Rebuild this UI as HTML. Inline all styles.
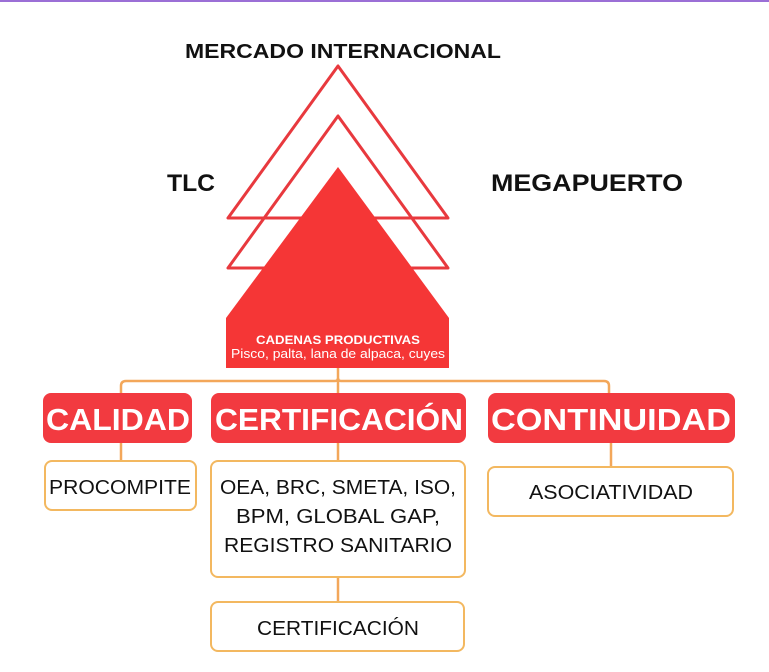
<!DOCTYPE html>
<html><head><meta charset="utf-8"><style>
html,body{margin:0;padding:0;background:#fff;}
svg{display:block;}
text{font-family:"Liberation Sans",sans-serif;}
</style></head><body>
<svg width="769" height="672" viewBox="0 0 769 672" xmlns="http://www.w3.org/2000/svg">
<rect x="0" y="0" width="769" height="2" fill="#9b6fd6"/>
<text x="343" y="58" text-anchor="middle" font-size="20" font-weight="bold" fill="#111" textLength="316" lengthAdjust="spacingAndGlyphs">MERCADO INTERNACIONAL</text>
<text x="191" y="191" text-anchor="middle" font-size="24" font-weight="bold" fill="#111" textLength="48" lengthAdjust="spacingAndGlyphs">TLC</text>
<text x="587" y="191" text-anchor="middle" font-size="24" font-weight="bold" fill="#111" textLength="192" lengthAdjust="spacingAndGlyphs">MEGAPUERTO</text>
<polygon points="338,66 228,218 448,218" fill="none" stroke="#e8393e" stroke-width="3" stroke-linejoin="round"/>
<polygon points="338,116 228,268 448,268" fill="none" stroke="#e8393e" stroke-width="3" stroke-linejoin="round"/>
<polygon points="338,167 226,318 226,368 449,368 449,318" fill="#f53636"/>
<text x="338" y="344" text-anchor="middle" font-size="11.5" font-weight="bold" fill="#fff" textLength="164" lengthAdjust="spacingAndGlyphs">CADENAS PRODUCTIVAS</text>
<text x="338" y="358" text-anchor="middle" font-size="12.5" fill="#fff" textLength="214" lengthAdjust="spacingAndGlyphs">Pisco, palta, lana de alpaca, cuyes</text>
<g fill="none" stroke="#f3a75a" stroke-width="2.5">
<path d="M338 368 V378 Q338 381 335 381 H126 Q121 381 121 386 V393"/>
<path d="M338 378 Q338 381 341 381 H604 Q609 381 609 386 V393"/>
<path d="M338 381 V393"/>
<path d="M121 443 V461"/>
<path d="M338 443 V461"/>
<path d="M338 577 V602"/>
<path d="M611 443 V467"/>
</g>
<rect x="43" y="393" width="149" height="50" rx="8" fill="#f23a40"/>
<rect x="211" y="393" width="255" height="50" rx="8" fill="#f23a40"/>
<rect x="488" y="393" width="247" height="50" rx="8" fill="#f23a40"/>
<text x="118" y="430" text-anchor="middle" font-size="31" font-weight="bold" fill="#fff" textLength="144" lengthAdjust="spacingAndGlyphs">CALIDAD</text>
<text x="339" y="430" text-anchor="middle" font-size="31" font-weight="bold" fill="#fff" textLength="248" lengthAdjust="spacingAndGlyphs">CERTIFICACIÓN</text>
<text x="611" y="430" text-anchor="middle" font-size="31" font-weight="bold" fill="#fff" textLength="240" lengthAdjust="spacingAndGlyphs">CONTINUIDAD</text>
<g fill="#fff" stroke="#f3b860" stroke-width="2">
<rect x="45" y="461" width="151" height="49" rx="7"/>
<rect x="211" y="461" width="254" height="116" rx="7"/>
<rect x="488" y="467" width="245" height="49" rx="7"/>
<rect x="211" y="602" width="253" height="49" rx="7"/>
</g>
<g font-size="20" fill="#111" text-anchor="middle">
<text x="120" y="494" textLength="142" lengthAdjust="spacingAndGlyphs">PROCOMPITE</text>
<text x="338" y="494" textLength="236" lengthAdjust="spacingAndGlyphs">OEA, BRC, SMETA, ISO,</text>
<text x="338" y="523" textLength="204" lengthAdjust="spacingAndGlyphs">BPM, GLOBAL GAP,</text>
<text x="338" y="552" textLength="228" lengthAdjust="spacingAndGlyphs">REGISTRO SANITARIO</text>
<text x="611" y="499" textLength="164" lengthAdjust="spacingAndGlyphs">ASOCIATIVIDAD</text>
<text x="338" y="635" textLength="162" lengthAdjust="spacingAndGlyphs">CERTIFICACIÓN</text>
</g>
</svg>
</body></html>
